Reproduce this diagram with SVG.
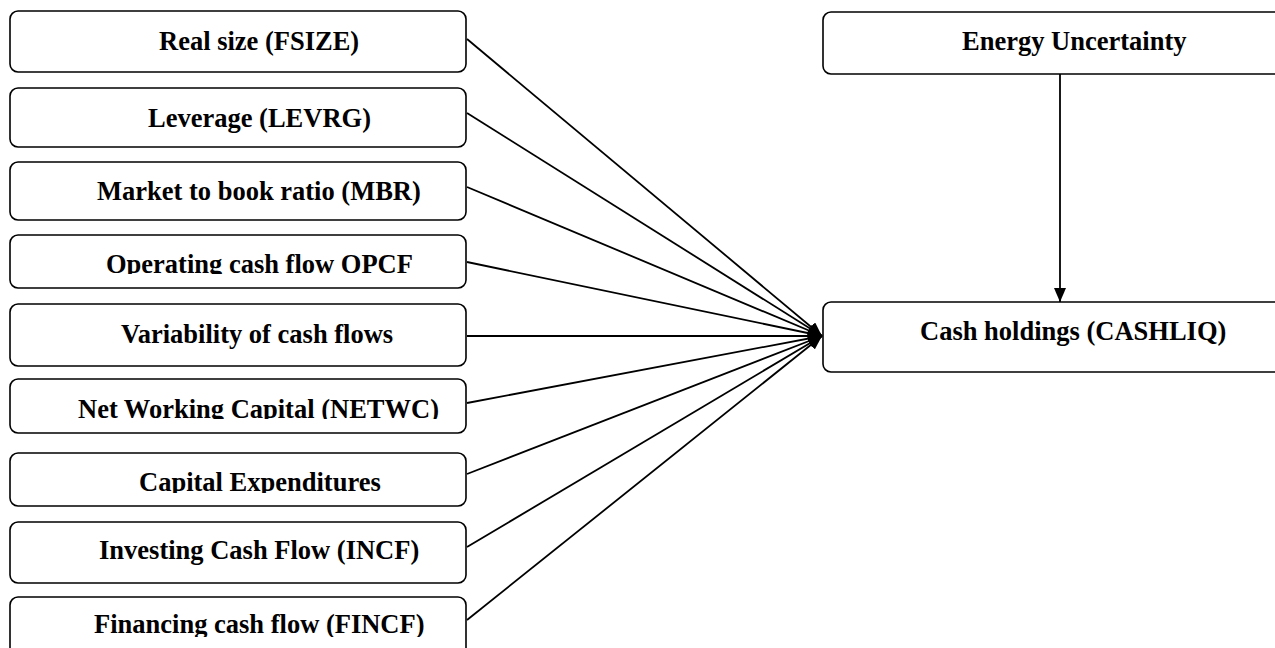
<svg xmlns="http://www.w3.org/2000/svg" width="1275" height="648" viewBox="0 0 1275 648">
<style>
.box{fill:#fff;stroke:#000;stroke-width:1.6}
.lbl{font-family:"Liberation Serif","Times New Roman",serif;font-weight:bold;font-size:26.5px;fill:#000}
.con{stroke:#000;stroke-width:1.8;fill:none}
</style>
<defs>
<marker id="ah" markerUnits="userSpaceOnUse" markerWidth="16" markerHeight="12" refX="14" refY="6" orient="auto">
<path d="M0,0 L14,6 L0,12 z" fill="#000"/>
</marker>
<clipPath id="c4"><rect x="0" y="230" width="480" height="44"/></clipPath>
<clipPath id="c6"><rect x="0" y="375" width="480" height="44"/></clipPath>
<clipPath id="c7"><rect x="0" y="450" width="480" height="43"/></clipPath>
<clipPath id="c9"><rect x="0" y="595" width="480" height="42"/></clipPath>
</defs>
<rect width="1275" height="648" fill="#fff"/>
<g id="connectors">
<line class="con" x1="467" y1="39" x2="822" y2="336" marker-end="url(#ah)"/>
<line class="con" x1="467" y1="113" x2="822" y2="336" marker-end="url(#ah)"/>
<line class="con" x1="467" y1="187" x2="822" y2="336" marker-end="url(#ah)"/>
<line class="con" x1="467" y1="262" x2="822" y2="336" marker-end="url(#ah)"/>
<line class="con" x1="467" y1="336" x2="822" y2="336" marker-end="url(#ah)"/>
<line class="con" x1="467" y1="403" x2="822" y2="336" marker-end="url(#ah)"/>
<line class="con" x1="467" y1="474" x2="822" y2="336" marker-end="url(#ah)"/>
<line class="con" x1="467" y1="547" x2="822" y2="336" marker-end="url(#ah)"/>
<line class="con" x1="467" y1="620" x2="822" y2="336" marker-end="url(#ah)"/>
<line class="con" x1="1060" y1="74" x2="1060" y2="302" marker-end="url(#ah)"/>
</g>
<g id="n1"><rect class="box" x="10" y="11" width="456" height="61" rx="8"/><text class="lbl" x="159" y="50">Real size (FSIZE)</text></g>
<g id="n2"><rect class="box" x="10" y="88" width="456" height="59" rx="8"/><text class="lbl" x="148" y="127">Leverage (LEVRG)</text></g>
<g id="n3"><rect class="box" x="10" y="162" width="456" height="58" rx="8"/><text class="lbl" x="97" y="200">Market to book ratio (MBR)</text></g>
<g id="n4"><rect class="box" x="10" y="235" width="456" height="53" rx="8"/><text class="lbl" x="106" y="273" clip-path="url(#c4)">Operating cash flow OPCF</text></g>
<g id="n5"><rect class="box" x="10" y="304" width="456" height="62" rx="8"/><text class="lbl" x="121" y="343">Variability of cash flows</text></g>
<g id="n6"><rect class="box" x="10" y="379" width="456" height="54" rx="8"/><text class="lbl" x="78" y="418" clip-path="url(#c6)">Net Working Capital (NETWC)</text></g>
<g id="n7"><rect class="box" x="10" y="453" width="456" height="53" rx="8"/><text class="lbl" x="139" y="491" clip-path="url(#c7)">Capital Expenditures</text></g>
<g id="n8"><rect class="box" x="10" y="522" width="456" height="61" rx="8"/><text class="lbl" x="99" y="559">Investing Cash Flow (INCF)</text></g>
<g id="n9"><rect class="box" x="10" y="597" width="456" height="70" rx="8"/><text class="lbl" x="94" y="633" clip-path="url(#c9)">Financing cash flow (FINCF)</text></g>
<g id="n10"><rect class="box" x="823" y="12" width="460" height="62" rx="8"/><text class="lbl" x="962" y="50">Energy Uncertainty</text></g>
<g id="n11"><rect class="box" x="823" y="302" width="460" height="70" rx="8"/><text class="lbl" x="920" y="340">Cash holdings (CASHLIQ)</text></g>
</svg>
